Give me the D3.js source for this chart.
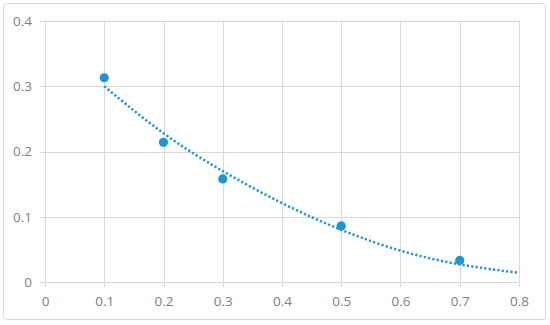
<!DOCTYPE html>
<meta charset="utf-8">
<style>
body { margin: 0; background: #fff; }
.grid line { stroke: #d9d9d9; stroke-width: 1px; }
.axis text { fill: #808080; font-family: "Open Sans", "Noto Sans", sans-serif; font-size: 13.5px; }
.trend { fill: none; stroke: #1a96d6; stroke-width: 2.5px; stroke-dasharray: 2.2 2.2; }
.dot { fill: #1a96d6; }
</style>
<body>
<script src="https://cdn.jsdelivr.net/npm/d3@7/dist/d3.min.js"></script>
<script>

// scatter points
var xs = [0.1, 0.2, 0.3, 0.5, 0.7];
var ys = [0.313, 0.214, 0.158, 0.086, 0.033];

// trendline
var trendX = [0.1, 0.2, 0.3, 0.4, 0.5, 0.6, 0.7, 0.8];
var trendY = [0.300, 0.228, 0.170, 0.121, 0.080, 0.048, 0.027, 0.014];

var xTicks = [0, 0.1, 0.2, 0.3, 0.4, 0.5, 0.6, 0.7, 0.8];
var yTicks = [0, 0.1, 0.2, 0.3, 0.4];

var margin = {top: 21, right: 31, bottom: 43, left: 45},
    width = 550 - margin.left - margin.right,
    height = 325 - margin.top - margin.bottom;

var svg = d3.select("body").append("svg")
    .attr("width", 550)
    .attr("height", 325);

// outer frame
svg.append("rect")
    .attr("x", 3.5).attr("y", 3.5)
    .attr("width", 542).attr("height", 316)
    .attr("rx", 3)
    .attr("fill", "none")
    .attr("stroke", "#d9d9d9");

var g = svg.append("g")
    .attr("transform", "translate(" + margin.left + "," + margin.top + ")");

var x = d3.scaleLinear().domain([0, 0.8]).range([0, width]);
var y = d3.scaleLinear().domain([0, 0.4]).range([height, 0]);

// gridlines
g.append("g").attr("class", "grid")
  .selectAll("line").data(xTicks).enter().append("line")
    .attr("x1", function(d) { return Math.round(x(d)) + 0.5; })
    .attr("x2", function(d) { return Math.round(x(d)) + 0.5; })
    .attr("y1", 0).attr("y2", height + 5);

g.append("g").attr("class", "grid")
  .selectAll("line").data(yTicks).enter().append("line")
    .attr("y1", function(d) { return Math.round(y(d)) + 0.5; })
    .attr("y2", function(d) { return Math.round(y(d)) + 0.5; })
    .attr("x1", -5).attr("x2", width);

// axes (labels only, lines come from grid)
var fmt = function(d) { return d === 0 ? "0" : d3.format(".1f")(d); };
var xAxis = d3.axisBottom(x).tickValues(xTicks).tickFormat(fmt)
    .tickSize(0).tickPadding(14);
var yAxis = d3.axisLeft(y).tickValues(yTicks).tickFormat(fmt)
    .tickSize(0).tickPadding(13);

g.append("g").attr("class", "axis")
    .attr("transform", "translate(0," + height + ")")
    .call(xAxis)
    .call(function(s) { s.select(".domain").remove(); });

g.append("g").attr("class", "axis")
    .call(yAxis)
    .call(function(s) { s.select(".domain").remove(); });

// trendline
var trend = trendX.map(function(d, i) { return {x: d, y: trendY[i]}; });
var line = d3.line()
    .x(function(d) { return x(d.x); })
    .y(function(d) { return y(d.y); })
    .curve(d3.curveNatural);

g.append("path")
    .attr("class", "trend")
    .attr("d", line(trend));

// points
g.selectAll(".dot").data(xs).enter().append("circle")
    .attr("class", "dot")
    .attr("cx", function(d) { return x(d); })
    .attr("cy", function(d, i) { return y(ys[i]); })
    .attr("r", 4.6);

</script>
</body>
